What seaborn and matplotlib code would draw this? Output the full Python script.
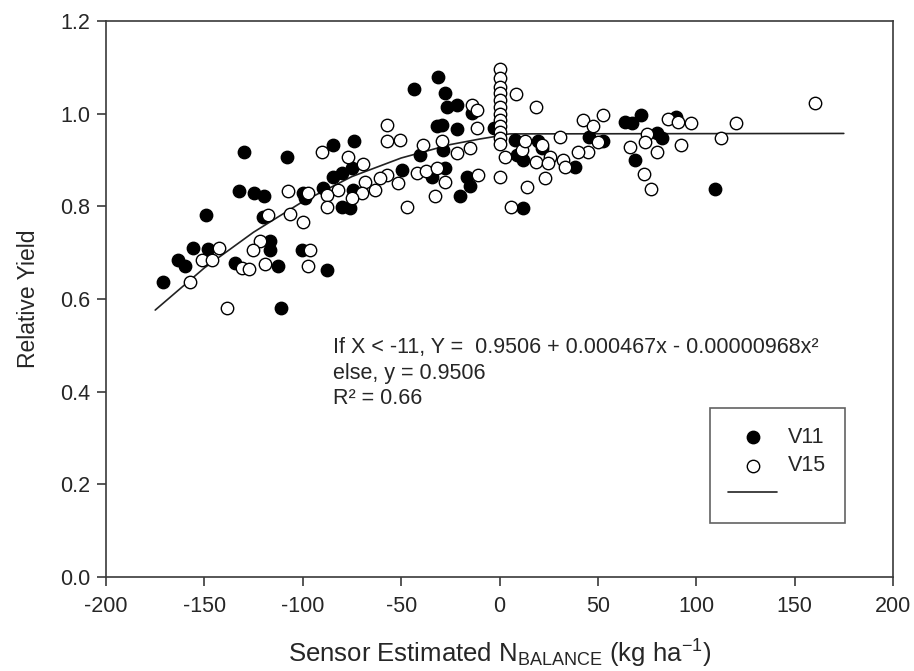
import pandas as pd
import matplotlib
matplotlib.use("Agg")
import matplotlib.pyplot as plt
import seaborn as sns

# ---- data ----
v11_x = [-129.7, -108.2, -132.4, -124.8, -119.5, -149.3, -120.0, -99.7, -155.6, -148.0,
         -163.3, -159.8, -171.2, -134.4, -116.6, -116.6, -112.4, -111.1, -100.5,
         -43.5, -31.1, -27.7, -26.8, -21.8, -32.0, -29.4, -21.8, -84.5, -74.0,
         -40.4, -28.6, -49.7, -27.7, -34.5, -16.7, -15.0, -20.1, -84.5, -80.2,
         -75.1, -89.6, -80.2, -76.0, -74.3, -87.8, -99.0, -14.0, -2.6,
         7.9, 12.1, 8.7, 19.7, 21.5, 12.1, 38.4, 45.6, 52.8,
         63.8, 67.2, 71.8, 79.9, 82.4, 68.9, 109.5, 89.7]
v11_y = [0.916, 0.907, 0.833, 0.828, 0.821, 0.781, 0.777, 0.828, 0.710, 0.708,
         0.684, 0.670, 0.636, 0.677, 0.724, 0.705, 0.671, 0.581, 0.705,
         1.052, 1.078, 1.044, 1.015, 1.019, 0.973, 0.975, 0.966, 0.932, 0.940,
         0.910, 0.922, 0.878, 0.882, 0.864, 0.864, 0.843, 0.821, 0.864, 0.871,
         0.882, 0.839, 0.799, 0.796, 0.836, 0.663, 0.818, 1.002, 0.969,
         0.943, 0.900, 0.910, 0.940, 0.925, 0.797, 0.885, 0.950, 0.940,
         0.982, 0.979, 0.996, 0.957, 0.947, 0.900, 0.837, 0.992]

v15_x = [-107.3, -117.5, -106.5, -99.7, -142.6, -151.4, -146.3, -157.3, -121.7, -125.1,
         -131.0, -127.2, -119.2, -138.3, -97.2, -96.3,
         -14.1, -11.6, -11.6, -57.3, -57.3, -50.6, -38.7, -29.4, -21.8, -15.0,
         -90.4, -76.9, -69.5, -57.3, -60.7, -51.4, -42.1, -37.4, -31.9, -27.7,
         -32.8, -47.2, -10.8, -68.4, -63.3, -70.0, -81.9, -87.8, -75.1, -87.8, -97.2,
         0, 0, 0, 0, 0, 0, 0, 0, 0, 0, 0, 0,
         8.5, 18.7, 0.3, 13.8, 23.1, 5.7, 30.8, 42.6, 52.8, 47.7, 50.2, 45.1,
         40.1, 11.3, 13.0, 2.8, 21.5, 25.7, 18.7, 24.8, 32.4, 33.3,
         85.8, 90.9, 97.3, 120.2, 160.4, 74.8, 74.0, 66.3, 80.2, 92.3, 112.6, 73.6, 77.0]
v15_y = [0.833, 0.781, 0.784, 0.767, 0.710, 0.684, 0.684, 0.636, 0.726, 0.705,
         0.666, 0.664, 0.675, 0.581, 0.671, 0.705,
         1.019, 1.008, 0.969, 0.975, 0.940, 0.943, 0.932, 0.940, 0.915, 0.925,
         0.918, 0.907, 0.892, 0.868, 0.861, 0.850, 0.871, 0.875, 0.882, 0.853,
         0.821, 0.798, 0.868, 0.853, 0.836, 0.829, 0.836, 0.824, 0.818, 0.798, 0.828,
         1.096, 1.076, 1.058, 1.044, 1.029, 1.015, 1.000, 0.986, 0.973, 0.961, 0.948, 0.934,
         1.043, 1.014, 0.864, 0.841, 0.861, 0.799, 0.950, 0.987, 0.996, 0.972, 0.939, 0.918,
         0.917, 0.922, 0.940, 0.907, 0.931, 0.907, 0.895, 0.893, 0.900, 0.885,
         0.988, 0.982, 0.980, 0.980, 1.022, 0.956, 0.938, 0.927, 0.916, 0.931, 0.947, 0.869, 0.837]

# fitted line as drawn in the picture
fit_x = [-175, -150, -125, -100, -75, -50, -25, -10, 0, 5, 175]
fit_y = [0.576, 0.667, 0.744, 0.810, 0.864, 0.904, 0.933, 0.945, 0.952, 0.956, 0.957]

x_ticks = [-200, -150, -100, -50, 0, 50, 100, 150, 200]
y_ticks = [0.0, 0.2, 0.4, 0.6, 0.8, 1.0, 1.2]

df11 = pd.DataFrame({"x": v11_x, "y": v11_y})
df15 = pd.DataFrame({"x": v15_x, "y": v15_y})
dfit = pd.DataFrame({"x": fit_x, "y": fit_y})

sns.set_style("ticks")
plt.rcParams["font.family"] = ["Liberation Sans", "DejaVu Sans"]
plt.rcParams["mathtext.fontset"] = "custom"
plt.rcParams["mathtext.rm"] = "Liberation Sans"
plt.rcParams["mathtext.it"] = "Liberation Sans:italic"

axis_col = "#3a3a3a"

fig = plt.figure(figsize=(9.14, 6.71), dpi=100)
ax = fig.add_axes([0.116, 0.140, 0.861, 0.829])

sns.scatterplot(data=df11, x="x", y="y", ax=ax, color="black", edgecolor="black",
                s=80, linewidth=1.0, zorder=3)
sns.scatterplot(data=df15, x="x", y="y", ax=ax, color="white", edgecolor="black",
                s=80, linewidth=1.0, zorder=4)
sns.lineplot(data=dfit, x="x", y="y", ax=ax, color="#222222", linewidth=1.2,
             sort=False, estimator=None, zorder=2)

ax.set_xlim(-200, 200)
ax.set_ylim(0, 1.2)
ax.set_xticks(x_ticks)
ax.set_xticklabels([str(t) for t in x_ticks])
ax.set_yticks(y_ticks)
ax.set_yticklabels([f"{t:.1f}" for t in y_ticks])

for sp in ax.spines.values():
    sp.set_visible(True)
    sp.set_color(axis_col)
    sp.set_linewidth(1.2)
ax.tick_params(axis="both", direction="out", length=6.5, width=1.2, color=axis_col,
               labelsize=15.5, pad=5)
ax.tick_params(axis="x", pad=7)
ax.tick_params(top=False, right=False)

ax.set_xlabel(r"Sensor Estimated N$\mathregular{_{BALANCE}}$ (kg ha$\mathregular{^{-1}}$)",
              fontsize=18.5, labelpad=15)
ax.set_ylabel("Relative Yield", fontsize=16.5, labelpad=14)

ax.text(-84.6, 0.496, "If X < -11, Y =  0.9506 + 0.000467x - 0.00000968x²",
        fontsize=15.5, va="center", ha="left")
ax.text(-84.6, 0.440, "else, y = 0.9506", fontsize=15.5, va="center", ha="left")
ax.text(-84.6, 0.386, "R² = 0.66", fontsize=15.5, va="center", ha="left")

handles = [ax.collections[0], ax.collections[1], ax.lines[0]]
leg = ax.legend(handles, ["V11", "V15", ""], loc="lower left",
                bbox_to_anchor=(0.767, 0.097), fontsize=15.5, frameon=True,
                fancybox=False, borderpad=0.85, labelspacing=0.35,
                handlelength=2.3, handletextpad=0.5, borderaxespad=0,
                scatterpoints=1)
leg.get_frame().set_edgecolor(axis_col)
leg.get_frame().set_linewidth(1.2)

fig.savefig("out.png", dpi=100)
